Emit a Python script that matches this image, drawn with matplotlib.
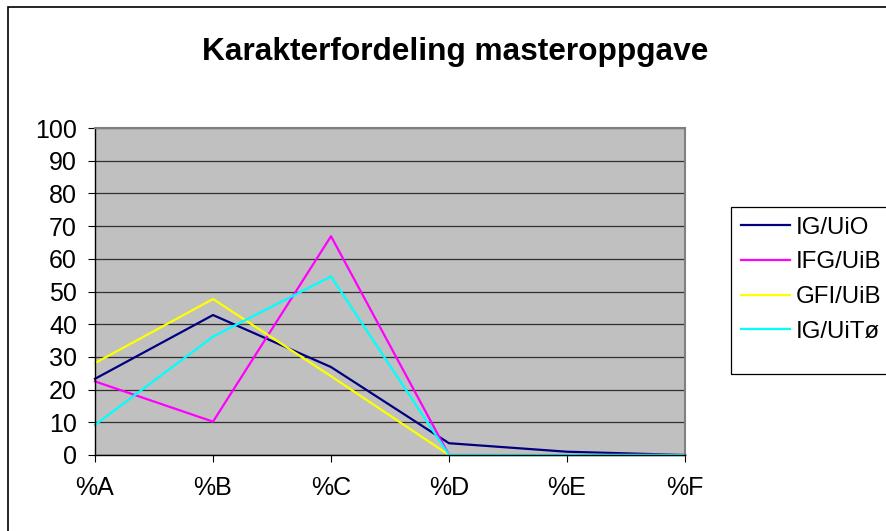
import matplotlib
matplotlib.use('Agg')
import matplotlib.pyplot as plt
from matplotlib.patches import Rectangle

plt.rcParams['font.family'] = ['Liberation Sans', 'DejaVu Sans']

categories = ['%A', '%B', '%C', '%D', '%E', '%F']
ig_uio = [23.3, 42.8, 26.9, 3.6, 1.0, 0.0]
ifg_uib = [22.5, 10.2, 66.9, 0.0, 0.0, 0.0]
gfi_uib = [28.1, 47.7, 24.1, 0.0, 0.0, 0.0]
ig_uitoe = [9.2, 36.2, 54.6, 0.0, 0.0, 0.0]

series = [
    ('IG/UiO', ig_uio, '#000080'),
    ('IFG/UiB', ifg_uib, '#FF00FF'),
    ('GFI/UiB', gfi_uib, '#FFFF00'),
    ('IG/UiTø', ig_uitoe, '#00FFFF'),
]

W, H = 887, 531
fig = plt.figure(figsize=(W / 100, H / 100), dpi=100)

# outer chart border (runs off the right and bottom edge)
fig.patches.append(Rectangle((8 / W, -0.05), 1.0, 1 - 7 / H + 0.05,
                             transform=fig.transFigure, fill=False,
                             edgecolor='#000000', linewidth=1.2))

# legend frame, also cut off at the right edge
fig.patches.append(Rectangle((731 / W, 1 - 374 / H), 0.5, 167 / H,
                             transform=fig.transFigure, fill=False,
                             edgecolor='#000000', linewidth=0.9))

ax = fig.add_axes([95 / W, 1 - 455 / H, 590 / W, 327 / H])
ax.set_facecolor('#C0C0C0')

x = list(range(len(categories)))
for name, vals, col in series:
    ax.plot(x, vals, color=col, linewidth=1.6, label=name, clip_on=False)

ax.set_xlim(0, len(categories) - 1)
ax.set_ylim(0, 100)
ax.set_yticks(range(0, 101, 10))
ax.set_xticks(x)
ax.set_xticklabels(categories)
ax.yaxis.grid(True, color='#303030', linewidth=0.9)
ax.set_axisbelow(True)

for side in ['top', 'right']:
    ax.spines[side].set_color('#808080')
    ax.spines[side].set_linewidth(1.5)
for side in ['left', 'bottom']:
    ax.spines[side].set_color('#000000')
    ax.spines[side].set_linewidth(1.0)

ax.tick_params(axis='both', direction='out', length=5, width=0.8,
               labelsize=18, colors='#000000')
ax.tick_params(axis='y', pad=8)
ax.tick_params(axis='x', pad=10)

fig.text(455 / W, 1 - 52 / H, 'Karakterfordeling masteroppgave',
         ha='center', va='center', fontsize=22.8, fontweight='bold')

leg = ax.legend(loc='upper left', bbox_to_anchor=(731 / W, 1 - 207 / H),
                bbox_transform=fig.transFigure, borderaxespad=0,
                frameon=False, fontsize=17.3, handlelength=2.05,
                handletextpad=0.25, labelspacing=0.53, borderpad=0.4)

fig.savefig('out.png', dpi=100)
